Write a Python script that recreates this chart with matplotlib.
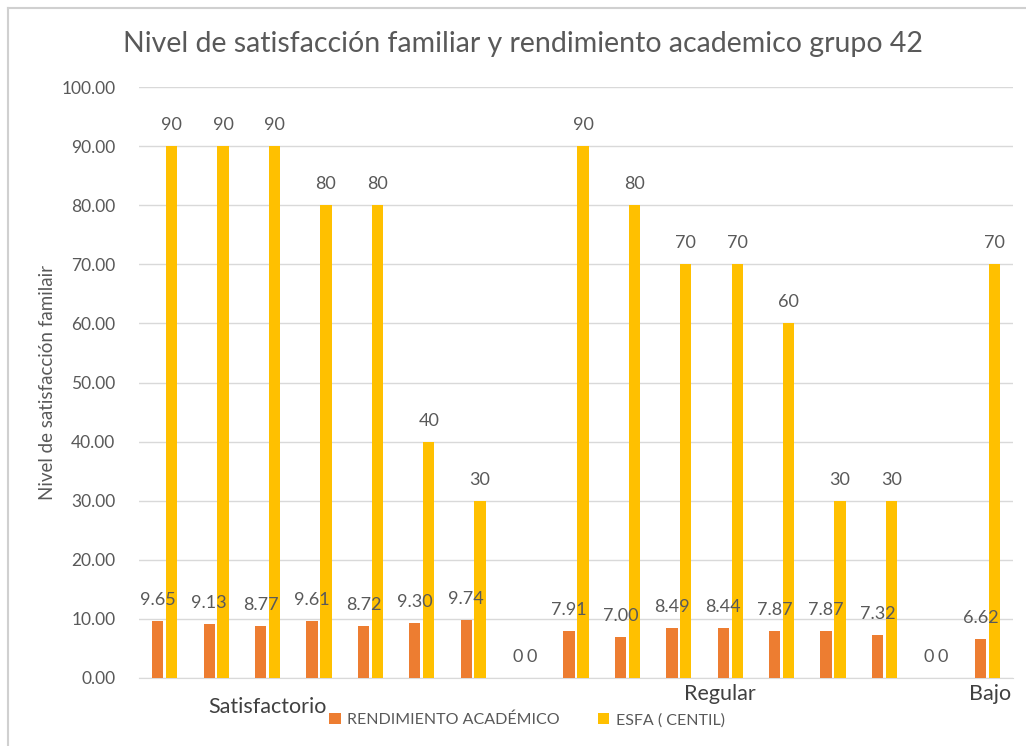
import numpy as np
import matplotlib
matplotlib.use("Agg")
import matplotlib.pyplot as plt
from matplotlib.lines import Line2D

plt.rcParams['font.family'] = ['Lato', 'DejaVu Sans']

# data
rendimiento = [9.65, 9.13, 8.77, 9.61, 8.72, 9.30, 9.74, 0,
               7.91, 7.00, 8.49, 8.44, 7.87, 7.87, 7.32, 0, 6.62]
esfa = [90, 90, 90, 80, 80, 40, 30, 0,
        90, 80, 70, 70, 60, 30, 30, 0, 70]
grupos = ["Satisfactorio", "Regular", "Bajo"]
grupo_pos = [2.0, 10.8, 16.05]
grupo_dy = [-29, -16, -16]
yticks = [0, 10, 20, 30, 40, 50, 60, 70, 80, 90, 100]

ORANGE = "#ED7D31"
YELLOW = "#FFC000"
GRAY = "#595959"
DARK = "#404040"

fig = plt.figure(figsize=(10.26, 7.46), dpi=100)
ax = fig.add_axes([139/1026, 1-678/746, 874/1026, 591/746])

x = np.arange(len(rendimiento))
w = 0.22
b1 = ax.bar(x - 0.135, rendimiento, w, color=ORANGE, label="RENDIMIENTO ACADÉMICO", zorder=3)
b2 = ax.bar(x + 0.135, esfa, w, color=YELLOW, label="ESFA ( CENTIL)", zorder=3)

for rect, v in zip(b1, rendimiento):
    txt = "0" if v == 0 else f"{v:.2f}"
    ax.annotate(txt, (rect.get_x() + rect.get_width()/2, v), xytext=(0, 21),
                textcoords="offset pixels", ha="center", va="center",
                fontsize=13, color=GRAY, zorder=4)
for rect, v in zip(b2, esfa):
    ax.annotate(f"{v}", (rect.get_x() + rect.get_width()/2, v), xytext=(0, 21),
                textcoords="offset pixels", ha="center", va="center",
                fontsize=13, color=GRAY, zorder=4)

ax.set_xlim(-0.5, len(rendimiento) - 0.5)
ax.set_ylim(0, 100)
ax.set_yticks(yticks)
ax.set_yticklabels([f"{t:.2f}" for t in yticks])
ax.tick_params(axis="y", length=0, pad=17, labelsize=12.5, labelcolor=GRAY)
ax.set_xticks([])
ax.grid(axis="y", color="#D9D9D9", linewidth=1, zorder=0)
for s in ["top", "right", "left"]:
    ax.spines[s].set_visible(False)
ax.spines["bottom"].set_color("#D9D9D9")
ax.spines["bottom"].set_zorder(0)

for name, px, dy in zip(grupos, grupo_pos, grupo_dy):
    ax.annotate(name, (px, 0), xycoords=("data", "axes fraction"),
                xytext=(0, dy), textcoords="offset pixels",
                ha="center", va="center", fontsize=15.5, color=DARK)

ax.set_ylabel("Nivel de satisfacción familair", fontsize=13.5, color=GRAY)
ax.yaxis.set_label_coords(-(139 - 56)/874, 0.5)

fig.text(523/1026, 1-44/746, "Nivel de satisfacción familiar y rendimiento academico grupo 42",
         ha="center", va="center", fontsize=20.5, color=GRAY)

leg = fig.legend(handles=[b1, b2], loc="center", bbox_to_anchor=(527/1026, 1-720/746),
                 ncol=2, frameon=False, fontsize=11.5, labelcolor=GRAY,
                 handlelength=0.7, handleheight=0.7, handletextpad=0.4, columnspacing=2.4)

# chart area border (left and top visible in the screenshot)
fig.add_artist(Line2D([8/1026, 8/1026], [0, 1-8/746], transform=fig.transFigure,
                      color="#D0D0D0", linewidth=1.5))
fig.add_artist(Line2D([8/1026, 1], [1-8/746, 1-8/746], transform=fig.transFigure,
                      color="#D0D0D0", linewidth=1.5))

fig.savefig("out.png", dpi=100)
